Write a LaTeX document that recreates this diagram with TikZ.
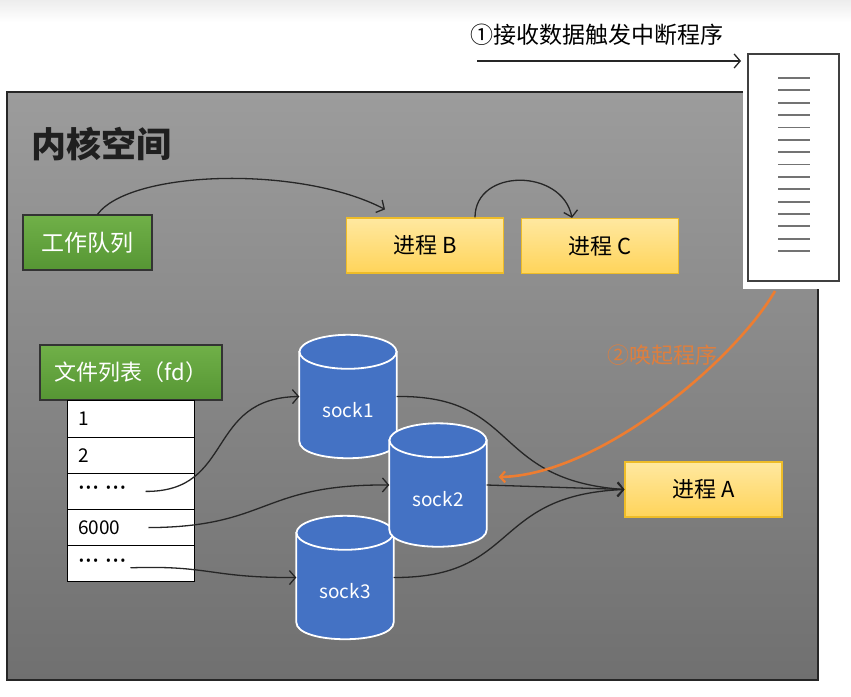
\documentclass[tikz,border=0pt]{standalone}
\usepackage{fontspec}
\setmainfont{Noto Sans CJK SC}
\newfontfamily\dotfont{Noto Sans}
\usetikzlibrary{arrows.meta,calc}
\definecolor{kgtop}{RGB}{156,156,156}
\definecolor{kgbot}{RGB}{112,112,112}
\definecolor{grtop}{RGB}{112,176,72}
\definecolor{grbot}{RGB}{86,150,52}
\definecolor{yltop}{RGB}{255,232,160}
\definecolor{ylbot}{RGB}{255,212,90}
\definecolor{ylbd}{RGB}{238,188,40}
\definecolor{sockblue}{RGB}{68,114,196}
\definecolor{wakeor}{RGB}{237,125,49}
\tikzset{
  fs/.style={font=\fontsize{#1}{#1}\selectfont},
  greenbox/.style={draw=black!80, line width=1.2pt, top color=grtop, bottom color=grbot,
    text=white, fs=22, minimum height=55pt, inner sep=0pt},
  procbox/.style={draw=ylbd, line width=1.2pt, top color=yltop, bottom color=ylbot,
    text=black, fs=22, minimum width=157pt, minimum height=55pt, inner sep=0pt},
  fdrow/.style={draw=black, line width=1pt, fill=white, minimum height=36.2pt,
    text width=105pt, inner xsep=11pt, inner ysep=0pt, align=left, fs=19},
  sockanchor/.style={minimum width=97pt, minimum height=123pt, inner sep=0pt},
  sockpath/.style={fill=sockblue, draw=white, line width=1.8pt},
  socklbl/.style={text=white, fs=19},
  arr/.style={line width=1.3pt, draw=black!85, -{Straight Barb[length=6pt,width=14pt,line width=1.3pt]}},
  wakearr/.style={line width=2.6pt, draw=wakeor, -{Straight Barb[length=5pt,width=11pt,line width=2.2pt]}},
  irqbox/.style={draw=black!75, line width=2pt, fill=white, minimum width=91pt, minimum height=227pt, inner sep=0pt},
}
\newcommand{\drawsockcyl}[1]{%
  \path[sockpath] ($(#1.north west)+(0,17)$) -- ($(#1.south west)+(0,-17)$)
    .. controls ($(#1.south west)+(0,5.7)$) and ($(#1.south east)+(0,5.7)$) .. ($(#1.south east)+(0,-17)$)
    -- ($(#1.north east)+(0,17)$) -- cycle;
  \path[sockpath] ($(#1.north)+(0,17)$) ellipse [x radius=48.5, y radius=17];
}
\newcommand{\fddots}{{\dotfont\bfseries\fontsize{25}{25}\selectfont ·\kern0.5pt·\kern0.5pt·\kern6pt·\kern0.5pt·\kern0.5pt·}}
\begin{document}
\begin{tikzpicture}[x=1pt,y=-1pt]
\useasboundingbox (0,0) rectangle (851,696);
\fill[white] (0,0) rectangle (851,696);
\shade[top color=black!7, bottom color=white] (0,0) rectangle (851,22);
% kernel space
\draw[black!85, line width=1.2pt, top color=kgtop, bottom color=kgbot] (7,92) rectangle (818,680);
\node[anchor=west, font=\bfseries\fontsize{35}{35}\selectfont, text=black!88] (title) at (28,144) {内核空间};
% interrupt box
\fill[white] (743,50) rectangle (843,289);
\node[irqbox] (irq) at (793.5,167.5) {};
\foreach \i in {0,...,14} {
  \draw[black!55, line width=1.8pt] (778,78+\i*12.36) -- (810,78+\i*12.36);
}
\node[fs=23] (irqlbl) at (597,35) {①接收数据触发中断程序};
\coordinate (inStart) at (477,61);
\draw[arr] (inStart) -- ([xshift=-6pt]irq.west |- inStart);
% nodes
\node[greenbox, minimum width=129pt, fs=23] (wq) at (87.5,242.5) {工作队列};
\node[procbox] (pB) at (425,245.5) {进程 B};
\node[procbox] (pC) at (600,246) {进程 C};
\node[procbox] (pA) at (703.5,489.5) {进程 A};
\node[greenbox, minimum width=182pt] (fdh) at (131,372.5) {文件列表（fd）};
\node[fdrow] (r1) at (130.5,419) {1};
\node[fdrow] (r2) at (130.5,455.2) {2};
\node[fdrow] (r3) at (130.5,491.4) {\fddots};
\node[fdrow] (r4) at (130.5,527.6) {6000};
\node[fdrow] (r5) at (130.5,563.8) {\fddots};
% sockets
\node[sockanchor] (sock1) at (348,396.5) {};
\node[sockanchor] (sock3) at (345,577.5) {};
\node[sockanchor] (sock2) at (438,485) {};
\drawsockcyl{sock1}
\drawsockcyl{sock3}
\drawsockcyl{sock2}
\node[socklbl] (sock1t) at ([yshift=-14pt]sock1.center) {sock1};
\node[socklbl] (sock2t) at ([yshift=-14pt]sock2.center) {sock2};
\node[socklbl] (sock3t) at ([yshift=-14pt]sock3.center) {sock3};
% connectors
\draw[arr] ([xshift=10pt]wq.north) .. controls (130,170) and (300,165) .. ([xshift=-40pt,yshift=8pt]pB.north);
\draw[arr] ([xshift=50pt]pB.north) .. controls (475,168) and (562,168) .. ([xshift=-28pt]pC.north);
\coordinate (d3) at ([xshift=15pt]r3.center);
\coordinate (d4) at ([xshift=18pt]r4.center);
\coordinate (d5) at ([yshift=-4pt]r5.center);
\draw[arr] (d3) .. controls (235,492) and (205,398) .. (sock1.west);
\draw[arr] (d4) .. controls (270,527) and (260,484) .. (sock2.west);
\draw[arr] (d5) .. controls (210,565) and (210,578) .. (sock3.west);
\draw[arr] (sock1.east) .. controls (520,395) and (490,480) .. (pA.west);
\draw[arr] (sock2.east) -- (pA.west);
\draw[arr] (sock3.east) .. controls (520,578) and (490,495) .. (pA.west);
% wake up
\coordinate (wake) at ([xshift=-18.5pt,yshift=-9pt]irq.south);
\draw[wakearr] (wake) .. controls (735,360) and (600,475) .. ([xshift=12pt,yshift=8pt]sock2.east);
\node[fs=22, text=wakeor, opacity=0.85] (wakelbl) at (662,355) {②唤起程序};
\end{tikzpicture}
\end{document}
